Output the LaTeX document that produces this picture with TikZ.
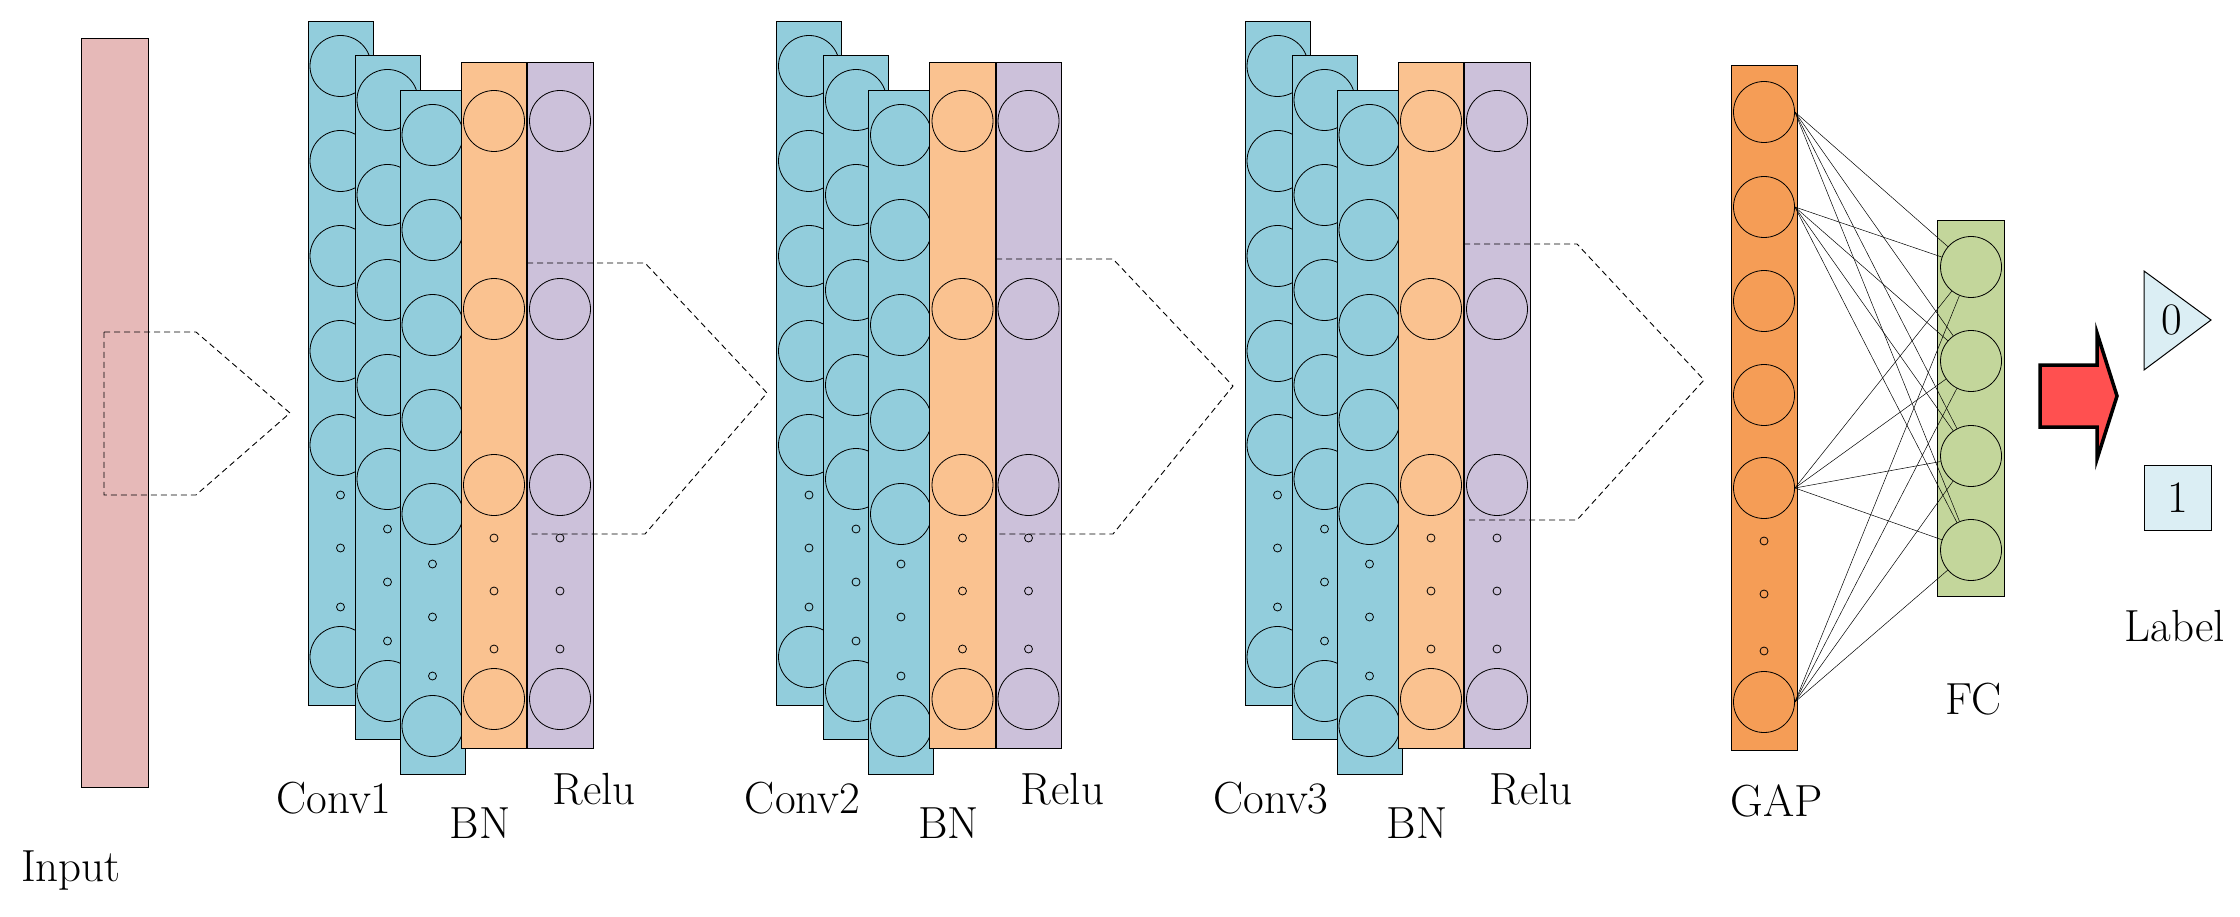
\documentclass[tikz,border=0pt]{standalone}
\begin{document}
\begin{tikzpicture}[x=1pt,y=-1pt,
  lay/.style={draw=black,line width=1pt},
  cir/.style={circle,draw=black,line width=0.8pt,minimum size=61pt,inner sep=0pt},
  dot/.style={circle,draw=black,line width=0.8pt,minimum size=8pt,inner sep=0pt},
  dsh/.style={draw=black,line width=0.9pt,dash pattern=on 6pt off 4pt},
  lbl/.style={font=\fontsize{45}{50}\selectfont,inner sep=0pt},
  fcl/.style={draw=black,line width=0.5pt}]
\definecolor{inc}{HTML}{E6B9B8}
\definecolor{cvc}{HTML}{92CDDC}
\definecolor{bnc}{HTML}{FAC290}
\definecolor{rlc}{HTML}{CCC1DA}
\definecolor{gpc}{HTML}{F59D56}
\definecolor{fcc}{HTML}{C3D69B}
\definecolor{lbc}{HTML}{DBEEF4}
\definecolor{arc}{HTML}{FF5050}
\useasboundingbox (0,0) rectangle (2240,917);
% input
\path[lay,fill=inc] (81,39) rectangle (148,787);
\draw[dsh] (104,332) -- (196,332) -- (290,413) -- (196,495) -- (104,495) -- cycle;
\node[lbl] (tin) at (71,871) {Input};
% groups
\foreach \g in {0,1,2}{
 \begin{scope}[xshift=\g*468.5]
  \foreach \dx/\dy [count=\k] in {0/0,47/34,92/69}{
    \path[lay,fill=cvc] (308+\dx,22+\dy) rectangle +(65,683);
    \foreach \o [count=\i] in {44,139,234,329,423,635}
      \node[cir] (c\g-\k-\i) at (340.5+\dx,22+\dy+\o) {};
    \foreach \o [count=\i] in {473,526,585}
      \node[dot] (d\g-\k-\i) at (340.5+\dx,22+\dy+\o) {};
  }
  \path[lay,fill=bnc] (461,63) rectangle (527,748);
  \path[lay,fill=rlc] (527,63) rectangle (593,748);
  \draw[line width=2pt] (527,63) -- (527,748);
  \foreach \xx/\nm in {494/b,560/r}{
    \foreach \o [count=\i] in {121,309,485,699}
      \node[cir] (\nm\g-\i) at (\xx,\o) {};
    \foreach \o [count=\i] in {538,591,649}
      \node[dot] (\nm d\g-\i) at (\xx,\o) {};
  }
  \node[lbl] (tc\g) at (334,798) {Conv\pgfmathparse{int(\g+1)}\pgfmathresult};
  \node[lbl] (tb\g) at (480,823) {BN};
  \node[lbl] (tr\g) at (594,789) {Relu};
 \end{scope}}
% dashed links
\draw[dsh] (527,263) -- (645,263) -- (767,393) -- (645,534) -- (527,534);
\draw[dsh] (996,259) -- (1113,259) -- (1233,386) -- (1113,534) -- (996,534);
\draw[dsh] (1464,244) -- (1577,244) -- (1704,380) -- (1577,520) -- (1464,520) -- cycle;
% GAP
\path[lay,fill=gpc] (1731,66) rectangle (1797,750);
\foreach \y [count=\i] in {112,207,301,395,488,702}
  \node[cir] (g\i) at (1764,\y) {};
\foreach \y [count=\i] in {541,594,651}
  \node[dot] (gd\i) at (1764,\y) {};
\node[lbl] (tgap) at (1777,801) {GAP};
% FC
\path[lay,fill=fcc] (1937,221) rectangle (2004,596);
\foreach \y [count=\i] in {267,361,456,550}
  \node[cir] (f\i) at (1971,\y) {};
\node[lbl] (tfc) at (1973,699) {FC};
\foreach \a in {1,2,5,6}
  \foreach \b in {1,2,3,4}
    \draw[fcl] (g\a.east) -- (f\b);
% arrow
\draw[line width=3.5pt,fill=arc,line join=miter]
  (2040,365) -- (2097,365) -- (2097,333) -- (2117,396) -- (2097,459) -- (2097,427) -- (2040,427) -- cycle;
% labels
\draw[lay,fill=lbc] (2144,271) -- (2211,320) -- (2144,370) -- cycle;
\node[lbl] (l0) at (2172,320) {0};
\node[lay,fill=lbc,minimum width=67pt,minimum height=65pt,font=\fontsize{45}{50}\selectfont] (l1) at (2177.5,497.5) {1};
\node[lbl] (tlab) at (2175,626) {Label};
\end{tikzpicture}
\end{document}
